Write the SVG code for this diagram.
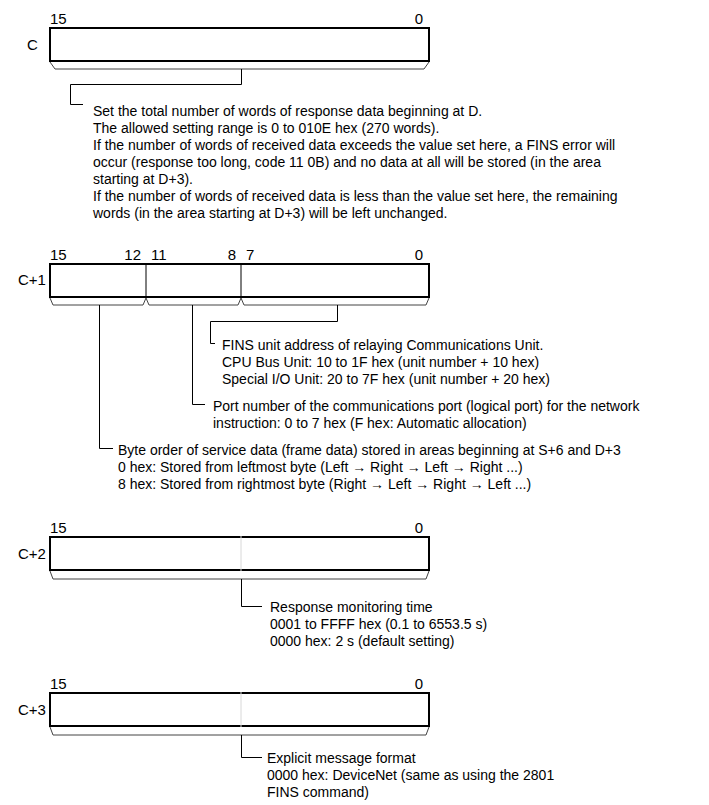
<svg xmlns="http://www.w3.org/2000/svg" width="709" height="805" viewBox="0 0 709 805">
<style>
text{font-family:"Liberation Sans",Arial,sans-serif;font-size:14px;fill:#000}
text.lbl{font-size:15px}
.box{fill:#fff;stroke:#000;stroke-width:2}
.brace{fill:none;stroke:#444;stroke-width:1}
.conn{fill:none;stroke:#000;stroke-width:1}
.div{stroke:#000;stroke-width:1}
.mid{stroke:#d8d8d8;stroke-width:1}
.end{text-anchor:end}
</style>
<rect width="709" height="805" fill="#fff"/>

<g id="word-C">
<text class="lbl" x="50" y="24">15</text>
<text class="lbl end" x="423" y="24">0</text>
<text class="lbl" x="27" y="50">C</text>
<rect class="box" x="50" y="28" width="379" height="33"/>
<path class="brace" d="M50,62 L55,69 L424,69 L429,62"/>
</g>

<g id="desc-C">
<text x="93" y="116">Set the total number of words of response data beginning at D.</text>
<text x="93" y="133">The allowed setting range is 0 to 010E hex (270 words).</text>
<text x="93" y="150">If the number of words of received data exceeds the value set here, a FINS error will</text>
<text x="93" y="167">occur (response too long, code 11 0B) and no data at all will be stored (in the area</text>
<text x="93" y="184">starting at D+3).</text>
<text x="93" y="201">If the number of words of received data is less than the value set here, the remaining</text>
<text x="93" y="218">words (in the area starting at D+3) will be left unchanged.</text>
</g>

<g id="word-C1">
<text class="lbl" x="50" y="260">15</text>
<text class="lbl end" x="141" y="260">12</text>
<text class="lbl" x="151" y="260">11</text>
<text class="lbl end" x="236" y="260">8</text>
<text class="lbl" x="246" y="260">7</text>
<text class="lbl end" x="423" y="260">0</text>
<text class="lbl" x="18" y="285">C+1</text>
<rect class="box" x="50" y="264" width="379" height="33"/>
<line class="div" x1="146" y1="264" x2="146" y2="297"/>
<line class="div" x1="241" y1="264" x2="241" y2="297"/>
<path class="brace" d="M50,298 L53,305 L143,305 L146,298 L149,305 L238,305 L241,298 L244,305 L426,305 L429,298"/>
</g>

<g id="desc-C1-unit">
<text x="222" y="350">FINS unit address of relaying Communications Unit.</text>
<text x="222" y="367">CPU Bus Unit: 10 to 1F hex (unit number + 10 hex)</text>
<text x="222" y="384">Special I/O Unit: 20 to 7F hex (unit number + 20 hex)</text>
</g>
<g id="desc-C1-port">
<text x="213" y="411">Port number of the communications port (logical port) for the network</text>
<text x="213" y="428">instruction: 0 to 7 hex (F hex: Automatic allocation)</text>
</g>
<g id="desc-C1-byte">
<text x="118" y="455">Byte order of service data (frame data) stored in areas beginning at S+6 and D+3</text>
<text x="118" y="472">0 hex: Stored from leftmost byte (Left → Right → Left → Right ...)</text>
<text x="118" y="489">8 hex: Stored from rightmost byte (Right → Left → Right → Left ...)</text>
</g>

<g id="word-C2">
<text class="lbl" x="50" y="533">15</text>
<text class="lbl end" x="423" y="533">0</text>
<text class="lbl" x="18" y="559">C+2</text>
<rect class="box" x="50" y="537" width="379" height="33"/>
<line class="mid" x1="241" y1="536" x2="241" y2="571"/>
<path class="brace" d="M50,571 L53,579 L426,579 L429,571"/>
</g>
<g id="desc-C2">
<text x="270" y="612">Response monitoring time</text>
<text x="270" y="629">0001 to FFFF hex (0.1 to 6553.5 s)</text>
<text x="270" y="646">0000 hex: 2 s (default setting)</text>
</g>

<g id="word-C3">
<text class="lbl" x="50" y="689">15</text>
<text class="lbl end" x="423" y="689">0</text>
<text class="lbl" x="18" y="715">C+3</text>
<rect class="box" x="50" y="693" width="379" height="33"/>
<line class="mid" x1="241" y1="692" x2="241" y2="727"/>
<path class="brace" d="M50,727 L53,735 L426,735 L429,727"/>
</g>
<g id="desc-C3">
<text x="267" y="763">Explicit message format</text>
<text x="267" y="780">0000 hex: DeviceNet (same as using the 2801</text>
<text x="267" y="797">FINS command)</text>
</g>

<g id="connectors">
<path class="conn" d="M241.5,69 V84.5 H70.5 V104.5 H83"/>
<path class="conn" d="M337.5,305 V321.5 H210.5 V343.5 H215"/>
<path class="conn" d="M192.5,305 V404.5 H205"/>
<path class="conn" d="M99.5,305 V448.5 H113"/>
<path class="conn" d="M241.5,579 V606.5 H262"/>
<path class="conn" d="M241.5,735 V757.5 H262"/>
</g>
</svg>
